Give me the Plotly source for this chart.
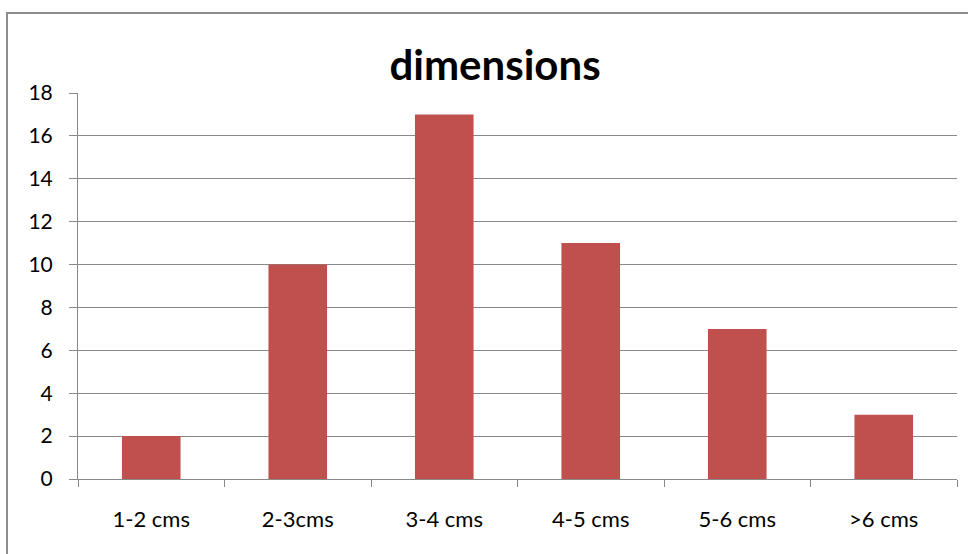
import plotly.graph_objects as go

categories = ["1-2 cms", "2-3cms", "3-4 cms", "4-5 cms", "5-6 cms", ">6 cms"]
counts = [2, 10, 17, 11, 7, 3]
y_ticks = [0, 2, 4, 6, 8, 10, 12, 14, 16, 18]

BAR_COLOR = "#C0504D"
GRID_COLOR = "#898989"
FONT = "Lato, 'Open Sans', sans-serif"

fig = go.Figure(
    go.Bar(
        x=categories,
        y=counts,
        marker=dict(color=BAR_COLOR, line=dict(width=0)),
    )
)

fig.update_layout(
    width=968,
    height=554,
    margin=dict(l=78, r=11, t=93, b=75),
    paper_bgcolor="white",
    plot_bgcolor="white",
    bargap=0.6,
    showlegend=False,
    font=dict(family=FONT, color="black", size=21),
    title=dict(
        text="<b>dimensions</b>",
        x=495 / 968,
        xref="container",
        xanchor="center",
        y=1 - 65 / 554,
        yref="container",
        yanchor="middle",
        font=dict(family=FONT, size=42, color="black"),
    ),
    shapes=[
        dict(
            type="rect",
            xref="paper",
            yref="paper",
            x0=-71 / 879,
            x1=1.2,
            y0=-0.5,
            y1=1 + 80 / 386,
            line=dict(color="#8c8c8c", width=2),
            fillcolor="rgba(0,0,0,0)",
            layer="below",
        )
    ],
)

fig.update_yaxes(
    range=[0, 18],
    tickvals=y_ticks,
    showgrid=True,
    gridcolor=GRID_COLOR,
    gridwidth=1,
    showline=True,
    linecolor=GRID_COLOR,
    linewidth=1,
    ticks="outside",
    ticklen=8,
    tickcolor=GRID_COLOR,
    zeroline=False,
    ticklabelstandoff=12,
    tickfont=dict(family=FONT, size=21),
)

fig.update_xaxes(
    showline=True,
    linecolor=GRID_COLOR,
    linewidth=1,
    ticks="outside",
    ticklen=7,
    tickcolor=GRID_COLOR,
    tickson="boundaries",
    showgrid=False,
    ticklabelstandoff=21,
    tickfont=dict(family=FONT, size=22),
)

fig.write_html("out.html")
